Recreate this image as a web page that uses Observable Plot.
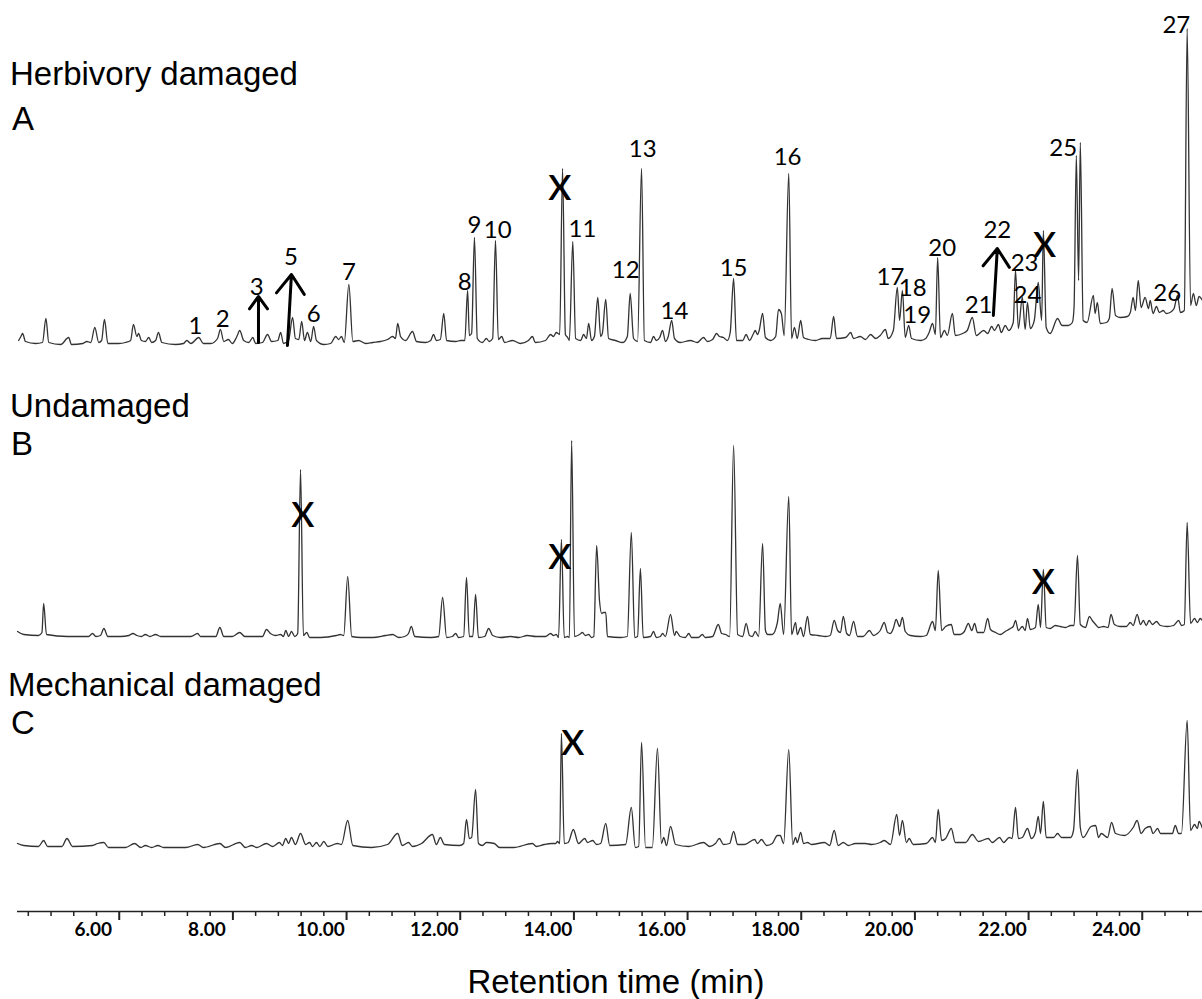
<!DOCTYPE html>
<html>
<head>
<meta charset="utf-8">
<script src="https://cdn.jsdelivr.net/npm/d3@7"></script>
<script src="https://cdn.jsdelivr.net/npm/@observablehq/plot@0.6"></script>
<style>
  html, body { margin: 0; padding: 0; background: #fff; overflow: hidden; }
  #fig { position: relative; width: 1202px; height: 999px; background: #fff; }
  .pl { position: absolute; left: 0; }
  .title { position: absolute; font-family: "Liberation Sans", Arial, sans-serif; font-size: 33px; line-height: 33px; color: #000; white-space: nowrap; }
</style>
</head>
<body>
<div id="fig"></div>
<script>
// ---------- DATA (retention time in min, detector signal in arbitrary units) ----------
const runStart = 4.21, runEnd = 25.06;
const majorTicks = [6, 8, 10, 12, 14, 16, 18, 20, 22, 24];
const xLabel = "Retention time (min)";
const panelTitles = [["Herbivory damaged", "A"], ["Undamaged", "B"], ["Mechanical damaged", "C"]];

// Panel A: herbivory damaged
const traceA = [[4.23,5],[4.27,9],[4.30,12],[4.35,4],[4.53,2],[4.65,3],[4.71,27],[4.76,3],[4.97,1],[5.11,8],[5.16,1],[5.36,2],[5.43,4],[5.50,3],[5.57,18],[5.64,3],[5.69,5],[5.74,26],[5.80,2],[5.99,2],[6.11,3],[6.20,5],[6.25,21],[6.31,9],[6.34,12],[6.39,5],[6.46,4],[6.52,8],[6.57,3],[6.64,5],[6.69,13],[6.75,3],[6.99,1],[7.13,2],[7.19,5],[7.26,2],[7.40,8],[7.48,2],[7.61,2],[7.73,7],[7.78,16],[7.84,4],[7.92,6],[7.99,2],[8.07,9],[8.12,15],[8.19,5],[8.28,3],[8.35,8],[8.40,2],[8.52,3],[8.61,11],[8.68,4],[8.79,5],[8.84,13],[8.89,2],[8.98,5],[9.05,28],[9.10,7],[9.16,6],[9.21,24],[9.26,5],[9.31,13],[9.37,4],[9.42,19],[9.47,5],[9.60,1],[9.72,2],[9.81,9],[9.86,6],[9.91,9],[9.96,3],[10.04,61],[10.11,4],[10.21,5],[10.34,2],[10.46,3],[10.60,4],[10.72,6],[10.81,9],[10.86,7],[10.90,22],[10.95,9],[11.04,5],[11.16,14],[11.23,4],[11.39,3],[11.48,5],[11.53,11],[11.58,5],[11.65,6],[11.71,32],[11.76,5],[11.92,4],[12.01,5],[12.08,5],[12.13,55],[12.16,10],[12.20,12],[12.25,108],[12.30,7],[12.39,3],[12.46,7],[12.51,4],[12.57,7],[12.62,105],[12.67,6],[12.73,9],[12.78,3],[12.92,5],[13.06,2],[13.20,5],[13.27,9],[13.32,3],[13.50,5],[13.59,11],[13.64,9],[13.69,13],[13.75,11],[13.80,177],[13.85,11],[13.89,8],[13.92,5],[13.98,104],[14.03,7],[14.12,5],[14.17,11],[14.22,7],[14.26,22],[14.31,5],[14.36,9],[14.42,48],[14.47,9],[14.50,12],[14.56,46],[14.61,7],[14.73,5],[14.86,3],[14.94,9],[14.99,52],[15.05,7],[15.12,4],[15.19,177],[15.24,5],[15.35,3],[15.40,9],[15.45,5],[15.51,8],[15.56,15],[15.61,4],[15.66,9],[15.72,25],[15.77,7],[15.87,3],[16.05,5],[16.17,3],[16.28,8],[16.35,4],[16.44,6],[16.51,12],[16.56,9],[16.63,8],[16.70,5],[16.75,13],[16.81,67],[16.86,5],[16.97,5],[17.03,11],[17.09,5],[17.16,12],[17.19,15],[17.23,11],[17.26,15],[17.32,32],[17.37,8],[17.46,5],[17.55,9],[17.60,36],[17.65,32],[17.70,10],[17.78,172],[17.83,7],[17.88,18],[17.93,7],[17.99,25],[18.04,8],[18.13,6],[18.25,5],[18.37,7],[18.51,7],[18.57,29],[18.62,7],[18.78,8],[18.87,13],[18.92,7],[19.04,9],[19.13,6],[19.22,11],[19.31,7],[19.39,10],[19.48,16],[19.53,7],[19.62,15],[19.69,58],[19.73,25],[19.78,55],[19.83,8],[19.89,20],[19.94,7],[20.10,5],[20.19,7],[20.25,13],[20.31,22],[20.36,11],[20.40,88],[20.45,8],[20.52,15],[20.57,10],[20.66,32],[20.71,10],[20.84,12],[20.92,15],[21.01,28],[21.08,10],[21.21,15],[21.28,12],[21.35,19],[21.40,15],[21.47,21],[21.52,13],[21.59,20],[21.65,15],[21.73,23],[21.77,75],[21.82,17],[21.89,48],[21.94,16],[21.98,43],[22.03,17],[22.10,25],[22.17,63],[22.23,25],[22.26,115],[22.31,18],[22.38,12],[22.51,27],[22.59,20],[22.70,20],[22.77,23],[22.80,38],[22.84,190],[22.88,65],[22.91,203],[22.96,25],[23.03,23],[23.14,50],[23.17,32],[23.21,43],[23.26,22],[23.37,23],[23.42,27],[23.47,57],[23.53,30],[23.61,28],[23.74,29],[23.79,33],[23.84,48],[23.88,35],[23.93,65],[23.98,38],[24.05,48],[24.11,37],[24.14,45],[24.19,32],[24.25,39],[24.30,33],[24.37,35],[24.42,32],[24.49,33],[24.56,37],[24.62,50],[24.67,33],[24.74,35],[24.79,317],[24.85,40],[24.90,52],[24.95,40],[25.00,49],[25.06,45]];
const peakLabelsA = [["1",7.34,19],["2",7.82,26],["3",8.42,58],["5",9.02,88],["6",9.42,31],["7",10.04,73],["8",12.08,63],["9",12.25,120],["10",12.66,115],["11",14.15,116],["12",14.91,75],["13",15.21,196],["14",15.77,34],["15",16.81,77],["16",17.76,188],["17",19.57,68],["18",19.96,57],["19",20.04,30],["20",20.48,97],["21",21.12,40],["22",21.45,115],["23",21.93,82],["24",21.98,50],["25",22.61,197],["26",24.44,52],["27",24.60,320]];
const excludedA = [[13.75,157],[22.28,100]];
const arrowsA = [[8.45,3,8.45,49],[8.96,0,9.03,71],[21.38,30,21.45,97]];

// Panel B: undamaged
const traceB = [[4.21,9],[4.32,6],[4.58,5],[4.64,8],[4.67,37],[4.72,6],[5.09,4],[5.46,4],[5.53,7],[5.59,4],[5.67,5],[5.73,12],[5.80,4],[6.02,4],[6.17,5],[6.24,7],[6.31,5],[6.39,4],[6.46,6],[6.54,4],[6.64,6],[6.73,4],[7.26,4],[7.38,7],[7.43,4],[7.70,4],[7.77,13],[7.84,4],[7.99,4],[8.12,8],[8.21,4],[8.31,4],[8.52,4],[8.59,11],[8.66,7],[8.75,5],[8.84,6],[8.89,4],[8.93,10],[8.98,4],[9.03,9],[9.09,4],[9.14,7],[9.19,171],[9.24,5],[9.30,8],[9.35,3],[9.54,3],[9.82,5],[9.89,6],[9.95,5],[10.02,64],[10.09,4],[10.25,3],[10.46,3],[10.69,5],[10.81,6],[10.92,3],[11.02,4],[11.09,7],[11.14,14],[11.20,4],[11.48,3],[11.62,4],[11.69,43],[11.76,3],[11.86,4],[11.92,7],[11.97,3],[12.06,4],[12.11,63],[12.16,4],[12.22,4],[12.27,46],[12.32,3],[12.43,4],[12.50,12],[12.57,5],[12.71,3],[12.89,4],[13.03,3],[13.18,5],[13.33,4],[13.50,4],[13.59,7],[13.64,5],[13.69,6],[13.73,3],[13.78,101],[13.83,3],[13.89,4],[13.92,3],[13.96,200],[14.01,4],[14.10,6],[14.15,8],[14.20,5],[14.26,6],[14.31,3],[14.35,4],[14.40,95],[14.45,40],[14.49,27],[14.52,28],[14.56,28],[14.59,4],[14.82,3],[14.94,4],[15.01,108],[15.07,3],[15.12,4],[15.17,72],[15.22,3],[15.35,4],[15.40,9],[15.45,3],[15.52,4],[15.56,7],[15.61,4],[15.70,26],[15.77,5],[15.80,9],[15.87,4],[15.96,3],[16.02,7],[16.07,3],[16.19,3],[16.26,6],[16.31,3],[16.44,4],[16.54,16],[16.60,7],[16.67,6],[16.74,4],[16.81,195],[16.88,6],[16.97,4],[17.03,17],[17.09,5],[17.14,4],[17.19,9],[17.25,4],[17.32,97],[17.37,10],[17.41,6],[17.49,6],[17.58,18],[17.63,37],[17.69,6],[17.78,144],[17.83,6],[17.90,18],[17.93,6],[17.99,13],[18.04,4],[18.11,24],[18.16,6],[18.30,5],[18.43,4],[18.51,5],[18.58,20],[18.64,10],[18.69,8],[18.74,24],[18.80,7],[18.85,5],[18.92,19],[18.99,4],[19.09,4],[19.20,10],[19.27,5],[19.34,7],[19.39,10],[19.46,18],[19.52,8],[19.57,7],[19.62,12],[19.67,21],[19.73,14],[19.78,23],[19.83,9],[19.92,5],[20.10,4],[20.20,5],[20.31,19],[20.36,10],[20.41,70],[20.47,10],[20.54,14],[20.64,16],[20.69,6],[20.80,6],[20.87,9],[20.94,17],[21.00,10],[21.05,17],[21.10,8],[21.21,8],[21.28,22],[21.33,11],[21.42,8],[21.50,6],[21.59,9],[21.68,12],[21.73,14],[21.77,20],[21.82,10],[21.89,14],[21.94,10],[21.98,22],[22.03,11],[22.12,13],[22.17,36],[22.21,13],[22.26,71],[22.31,13],[22.38,12],[22.47,15],[22.56,14],[22.65,13],[22.74,15],[22.80,15],[22.86,85],[22.91,16],[23.00,13],[23.07,24],[23.12,20],[23.18,16],[23.23,13],[23.32,14],[23.40,13],[23.45,26],[23.51,16],[23.61,14],[23.72,14],[23.79,18],[23.84,15],[23.91,26],[23.97,16],[24.02,20],[24.07,15],[24.12,20],[24.18,16],[24.25,19],[24.32,15],[24.44,14],[24.55,15],[24.64,20],[24.69,15],[24.74,16],[24.79,118],[24.85,17],[24.92,22],[24.97,18],[25.02,22],[25.06,20]];
const excludedB = [[9.23,125],[13.75,83],[22.26,58]];

// Panel C: mechanical damaged
const traceC = [[4.21,7],[4.32,5],[4.58,4],[4.67,10],[4.74,4],[4.99,4],[5.08,12],[5.18,4],[5.53,5],[5.62,7],[5.73,8],[5.81,3],[6.11,3],[6.27,7],[6.38,3],[6.46,5],[6.57,3],[6.68,5],[6.78,3],[7.17,3],[7.38,6],[7.48,3],[7.77,7],[7.87,3],[8.12,8],[8.22,3],[8.33,5],[8.42,3],[8.59,7],[8.70,4],[8.82,8],[8.87,5],[8.93,12],[8.98,7],[9.03,13],[9.10,6],[9.19,17],[9.28,6],[9.35,8],[9.40,4],[9.47,8],[9.53,4],[9.60,9],[9.67,4],[9.84,7],[9.91,6],[10.02,30],[10.11,5],[10.44,3],[10.72,6],[10.90,17],[10.98,5],[11.09,8],[11.16,4],[11.32,7],[11.51,16],[11.58,6],[11.65,13],[11.72,6],[11.99,5],[12.06,7],[12.11,31],[12.16,12],[12.20,13],[12.27,61],[12.32,7],[12.39,5],[12.46,8],[12.60,7],[12.69,3],[12.94,3],[13.27,7],[13.34,4],[13.48,6],[13.61,7],[13.68,7],[13.71,9],[13.75,7],[13.78,117],[13.83,7],[13.90,8],[13.99,21],[14.08,7],[14.19,12],[14.24,8],[14.33,10],[14.40,6],[14.47,7],[14.56,27],[14.63,5],[14.91,6],[15.01,43],[15.08,3],[15.14,4],[15.19,108],[15.26,3],[15.38,3],[15.47,102],[15.54,7],[15.58,13],[15.63,5],[15.70,24],[15.79,6],[16.02,4],[16.28,8],[16.39,4],[16.49,7],[16.56,12],[16.63,6],[16.74,7],[16.81,19],[16.88,6],[17.00,6],[17.18,11],[17.23,7],[17.30,11],[17.39,5],[17.49,7],[17.58,15],[17.63,15],[17.69,7],[17.78,101],[17.85,6],[17.90,13],[17.93,8],[17.99,18],[18.04,7],[18.11,8],[18.18,6],[18.41,8],[18.50,5],[18.58,20],[18.65,5],[18.74,8],[18.83,5],[18.95,7],[19.13,7],[19.24,6],[19.39,8],[19.46,10],[19.57,6],[19.68,36],[19.73,15],[19.78,30],[19.85,8],[19.90,12],[19.97,6],[20.20,7],[20.31,13],[20.36,8],[20.41,41],[20.47,10],[20.54,12],[20.64,22],[20.71,8],[20.89,8],[21.01,16],[21.12,9],[21.29,12],[21.36,8],[21.49,13],[21.56,8],[21.66,13],[21.71,12],[21.77,43],[21.82,12],[21.89,13],[21.98,22],[22.05,12],[22.12,18],[22.17,34],[22.21,17],[22.26,49],[22.31,13],[22.44,13],[22.51,17],[22.58,13],[22.74,13],[22.79,20],[22.86,81],[22.91,23],[22.96,13],[23.10,24],[23.18,25],[23.23,13],[23.28,17],[23.39,13],[23.46,28],[23.53,17],[23.69,15],[23.84,23],[23.91,30],[23.98,17],[24.05,22],[24.14,24],[24.19,17],[24.27,22],[24.32,17],[24.53,17],[24.58,25],[24.64,17],[24.69,17],[24.79,130],[24.85,20],[24.92,26],[24.97,22],[25.00,29],[25.06,22]];
const excludedC = [[13.98,107]];

// ---------- DRAWING ----------
const fig = document.getElementById("fig");
const traceColor = "#333";
const numFont = "Lato, 'Open Sans', sans-serif";

function panel(trace, labels, excluded, arrows, yMax) {
  const marks = [
    Plot.line(trace, {x: d => d[0], y: d => d[1], stroke: traceColor, strokeWidth: 1.3, curve: "monotone-x", strokeLinejoin: "round"})
  ];
  if (arrows.length) marks.push(Plot.arrow(arrows, {x1: d => d[0], y1: d => d[1], x2: d => d[2], y2: d => d[3], stroke: "#000", strokeWidth: 3, headLength: 15, headAngle: 72}));
  if (labels.length) marks.push(Plot.text(labels, {x: d => d[1], y: d => d[2], text: d => d[0], fontSize: 24, fontFamily: numFont, fill: "#000"}));
  marks.push(Plot.text(excluded, {x: d => d[0], y: d => d[1], text: () => "X", fontSize: 35, fontWeight: 600, fontFamily: numFont, fill: "#000"}));
  return Plot.plot({
    width: 1202, height: yMax + 5,
    marginLeft: 17, marginRight: 0, marginTop: 0, marginBottom: 5,
    x: {domain: [runStart, runEnd], axis: null},
    y: {domain: [0, yMax], axis: null},
    style: {background: "transparent", overflow: "visible"},
    marks
  });
}

function place(el, top) {
  const d = document.createElement("div");
  d.className = "pl";
  d.style.top = top + "px";
  d.appendChild(el);
  fig.appendChild(d);
}

place(panel(traceA, peakLabelsA, excludedA, arrowsA, 345), 0);
place(panel(traceB, [], excludedB, [], 220), 420);
place(panel(traceC, [], excludedC, [], 150), 700);

// x axis
const minorTicks = d3.range(4.4, 25.0, 0.4).filter(t => Math.abs(t / 2 - Math.round(t / 2)) > 0.01);
const axisPlot = Plot.plot({
  width: 1202, height: 60,
  marginLeft: 17, marginRight: 0, marginTop: 11, marginBottom: 40,
  x: {domain: [runStart, runEnd], axis: null},
  y: {domain: [0, 1], axis: null},
  style: {background: "transparent", overflow: "visible"},
  marks: [
    Plot.ruleY([1], {stroke: "#222", strokeWidth: 1.5}),
    Plot.ruleX(minorTicks, {x: d => d, stroke: "#222", strokeWidth: 1.5, insetBottom: 4}),
    Plot.ruleX(majorTicks, {x: d => d, stroke: "#222", strokeWidth: 2}),
    Plot.text(majorTicks, {x: d => d, text: d => d.toFixed(2), frameAnchor: "bottom", dy: 15, dx: -26, fontSize: 19, fontWeight: "bold", fontFamily: numFont, fill: "#000"})
  ]
});
place(axisPlot, 900);

// titles
const titlePos = [[10, 57, 12, 102], [10, 389, 11, 427], [8, 668, 11, 706]];
panelTitles.forEach((t, i) => {
  const a = document.createElement("div");
  a.className = "title"; a.textContent = t[0];
  a.style.left = titlePos[i][0] + "px"; a.style.top = titlePos[i][1] + "px";
  fig.appendChild(a);
  const b = document.createElement("div");
  b.className = "title"; b.textContent = t[1];
  b.style.left = titlePos[i][2] + "px"; b.style.top = titlePos[i][3] + "px";
  fig.appendChild(b);
});
const xl = document.createElement("div");
xl.className = "title"; xl.textContent = xLabel;
xl.style.left = "0px"; xl.style.width = "1232px"; xl.style.textAlign = "center"; xl.style.top = "965px";
fig.appendChild(xl);
</script>
</body>
</html>
